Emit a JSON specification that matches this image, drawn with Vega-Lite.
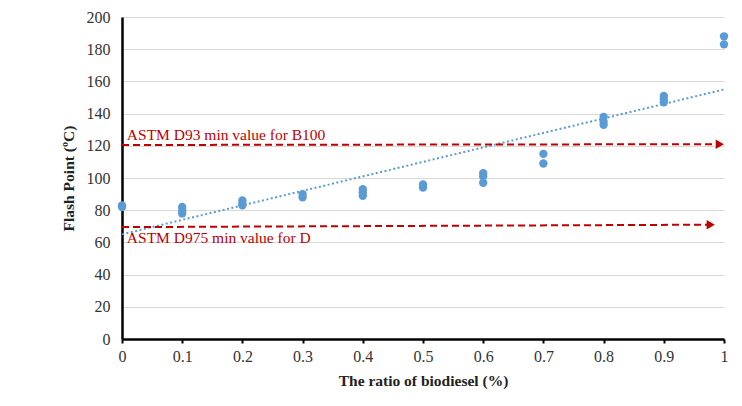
{
  "$schema": "https://vega.github.io/schema/vega-lite/v6.json",
  "width": 602,
  "height": 322,
  "autosize": {"type": "none"},
  "padding": {"left": 122, "top": 17, "right": 18, "bottom": 67},
  "background": "white",
  "config": {
    "view": {"stroke": null},
    "font": "Liberation Serif",
    "axis": {"labelFont": "Liberation Serif", "titleFont": "Liberation Serif", "labelColor": "#333", "titleColor": "#222", "labelOverlap": false, "labelFlush": false}
  },
  "datasets": {
    "pts": [
      {"x": 0, "y": 83}, {"x": 0, "y": 82},
      {"x": 0.1, "y": 82}, {"x": 0.1, "y": 80}, {"x": 0.1, "y": 78},
      {"x": 0.2, "y": 86}, {"x": 0.2, "y": 84}, {"x": 0.2, "y": 83},
      {"x": 0.3, "y": 90}, {"x": 0.3, "y": 88},
      {"x": 0.4, "y": 93}, {"x": 0.4, "y": 91}, {"x": 0.4, "y": 89},
      {"x": 0.5, "y": 96}, {"x": 0.5, "y": 94},
      {"x": 0.6, "y": 103}, {"x": 0.6, "y": 101}, {"x": 0.6, "y": 97},
      {"x": 0.7, "y": 115}, {"x": 0.7, "y": 109},
      {"x": 0.8, "y": 138}, {"x": 0.8, "y": 135}, {"x": 0.8, "y": 133},
      {"x": 0.9, "y": 151}, {"x": 0.9, "y": 149}, {"x": 0.9, "y": 147},
      {"x": 1, "y": 188}, {"x": 1, "y": 183}
    ],
    "trend": [{"x": 0, "y": 65}, {"x": 1, "y": 155}],
    "limits": [
      {"line": "B100", "x": 0, "y": 120.5},
      {"line": "B100", "x": 0.99, "y": 121},
      {"line": "D", "x": 0, "y": 69.5},
      {"line": "D", "x": 0.975, "y": 71}
    ],
    "heads": [{"x": 0.993, "y": 121}, {"x": 0.978, "y": 71}],
    "labels": [
      {"x": 0.008, "y": 127, "label": "ASTM D93 min value for B100"},
      {"x": 0.008, "y": 63, "label": "ASTM D975 min value for D"}
    ]
  },
  "encoding": {
    "x": {
      "field": "x", "type": "quantitative",
      "scale": {"domain": [0, 1], "nice": false},
      "axis": {
        "title": "The ratio of biodiesel (%)",
        "values": [0, 0.1, 0.2, 0.3, 0.4, 0.5, 0.6, 0.7, 0.8, 0.9, 1],
        "format": "~g",
        "grid": false,
        "domainColor": "black", "domainWidth": 2.5,
        "ticks": true, "tickColor": "black", "tickWidth": 2, "tickSize": 4,
        "labelFontSize": 16, "labelPadding": 5,
        "titleFontSize": 15.5, "titleFontWeight": "bold",
        "titleY": 41, "titleBaseline": "middle"
      }
    },
    "y": {
      "field": "y", "type": "quantitative",
      "scale": {"domain": [0, 200], "nice": false},
      "axis": {
        "title": "Flash Point (ºC)",
        "values": [0, 20, 40, 60, 80, 100, 120, 140, 160, 180, 200],
        "grid": true, "gridColor": "#d9d9d9", "gridWidth": 1,
        "domainColor": "black", "domainWidth": 2.5,
        "ticks": false,
        "labelFontSize": 16, "labelPadding": 12,
        "titleFontSize": 15.5, "titleFontWeight": "bold",
        "titleX": -54, "titleY": 161, "titleAngle": -90, "titleBaseline": "middle", "titleAlign": "center"
      }
    }
  },
  "layer": [
    {
      "data": {"name": "trend"},
      "mark": {"type": "line", "color": "#5B9BD5", "strokeWidth": 2, "strokeDash": [2, 2.5]}
    },
    {
      "data": {"name": "pts"},
      "mark": {"type": "circle", "size": 70, "opacity": 1, "color": "#5B9BD5"}
    },
    {
      "data": {"name": "limits"},
      "mark": {"type": "line", "color": "#C00000", "strokeWidth": 2, "strokeDash": [7, 4]},
      "encoding": {"detail": {"field": "line"}}
    },
    {
      "data": {"name": "heads"},
      "mark": {"type": "point", "shape": "triangle-right", "filled": true, "size": 90, "color": "#C00000", "opacity": 1}
    },
    {
      "data": {"name": "labels"},
      "mark": {"type": "text", "align": "left", "baseline": "middle", "fontSize": 15.5, "color": "#C00000", "font": "Liberation Serif"},
      "encoding": {"text": {"field": "label"}}
    }
  ]
}
